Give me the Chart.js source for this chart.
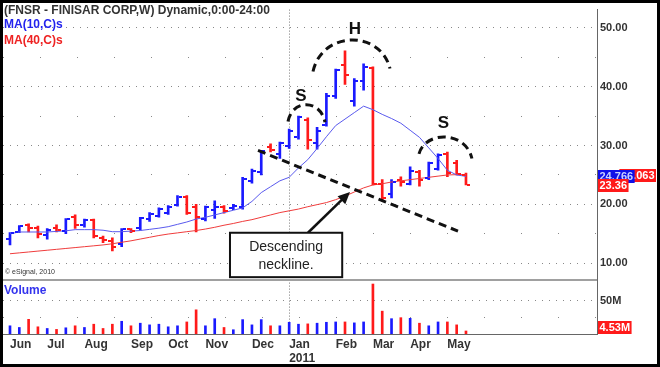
<!DOCTYPE html>
<html lang="en">
<head>
<meta charset="UTF-8">
<script src="https://cdn.jsdelivr.net/npm/chart.js"></script>
<title>FNSR - Finisar Corp, weekly</title>
<style>
    * { margin: 0; padding: 0; }
    body { background: #fff; }
    .contenedor { width: 660px; height: 367px; }
</style>
</head>
<body>
<div class="contenedor"><canvas id="myChart"></canvas></div>
<script>
// weekly bars (Monday of each week)
const semanas = [
    '2010-06-07', '2010-06-14', '2010-06-21', '2010-06-28', '2010-07-05', '2010-07-12', '2010-07-19', '2010-07-26',
    '2010-08-02', '2010-08-09', '2010-08-16', '2010-08-23', '2010-08-30', '2010-09-06', '2010-09-13', '2010-09-20',
    '2010-09-27', '2010-10-04', '2010-10-11', '2010-10-18', '2010-10-25', '2010-11-01', '2010-11-08', '2010-11-15',
    '2010-11-22', '2010-11-29', '2010-12-06', '2010-12-13', '2010-12-20', '2010-12-27', '2011-01-03', '2011-01-10',
    '2011-01-17', '2011-01-24', '2011-01-31', '2011-02-07', '2011-02-14', '2011-02-21', '2011-02-28', '2011-03-07',
    '2011-03-14', '2011-03-21', '2011-03-28', '2011-04-04', '2011-04-11', '2011-04-18', '2011-04-25', '2011-05-02',
    '2011-05-09', '2011-05-16'
];
const apertura = [14.1, 15.3, 16.5, 16.0, 14.8, 16.0, 15.5, 17.8, 16.5, 17.3, 14.3, 13.8, 13.2, 15.8, 16.0, 17.5,
    18.0, 18.5, 19.9, 21.3, 19.6, 17.5, 19.0, 19.5, 19.3, 19.5, 24.0, 25.5, 29.8, 28.5, 30.0, 31.5,
    34.3, 30.5, 33.5, 38.5, 43.7, 37.5, 41.0, 43.2, 23.5, 21.8, 24.2, 23.5, 25.5, 24.5, 26.0, 28.5, 27.0, 25.0];
const maximo = [15.2, 16.4, 16.7, 16.3, 15.9, 16.5, 17.6, 18.2, 17.5, 17.5, 14.6, 14.3, 15.9, 15.9, 17.8, 18.6,
    19.4, 19.8, 21.5, 21.5, 20.0, 19.7, 20.6, 19.8, 20.0, 24.6, 26.0, 29.2, 30.3, 30.6, 32.8, 35.0,
    34.7, 33.1, 38.9, 43.0, 46.1, 41.4, 43.9, 43.4, 24.2, 24.2, 24.7, 26.4, 25.8, 27.2, 28.6, 28.9, 27.5, 25.3];
const minimo = [13.1, 15.2, 15.3, 14.3, 14.1, 15.3, 15.0, 15.9, 16.1, 14.3, 13.5, 12.1, 12.8, 15.2, 15.6, 17.1,
    17.8, 18.3, 19.7, 18.3, 15.3, 17.2, 17.6, 18.5, 19.1, 19.2, 23.6, 25.0, 28.9, 27.8, 29.5, 31.1,
    29.4, 29.4, 33.3, 38.0, 40.4, 36.7, 39.4, 23.3, 20.6, 21.1, 23.1, 23.3, 23.1, 24.2, 25.8, 24.7, 25.0, 23.3];
const cierre = [15.1, 16.3, 15.9, 15.0, 15.7, 15.6, 17.5, 16.5, 17.3, 14.6, 13.9, 12.8, 15.8, 15.4, 17.7, 18.3,
    19.2, 19.5, 21.3, 18.5, 17.9, 19.5, 19.5, 18.8, 19.8, 24.3, 25.6, 29.0, 29.2, 30.4, 32.5, 34.8,
    31.0, 32.5, 38.5, 42.8, 42.0, 41.0, 43.3, 23.4, 21.0, 23.8, 23.8, 25.6, 24.2, 27.0, 28.4, 25.3, 25.1, 23.36];
const ma10 = [15.0, 15.3, 15.3, 15.3, 15.3, 15.4, 15.5, 15.7, 15.7, 15.7, 15.6, 15.35, 15.35, 15.45, 15.55, 15.75,
    15.95, 16.2, 16.6, 17.0, 17.5, 17.8, 18.2, 18.6, 19.0, 19.4, 20.5, 22.0, 23.0, 24.0, 24.6, 26.2,
    27.6, 29.5, 31.5, 33.4, 34.5, 35.6, 36.7, 36.1, 35.3, 34.6, 33.8, 32.6, 31.4, 29.6, 27.8, 25.8, 25.0, 24.766];
const ma40 = [11.6, 11.75, 11.9, 12.05, 12.2, 12.35, 12.5, 12.65, 12.8, 12.95, 13.1, 13.3, 13.55, 13.8, 14.1, 14.4,
    14.7, 14.95, 15.15, 15.35, 15.55, 15.8, 16.1, 16.45, 16.75, 17.1, 17.4, 17.8, 18.2, 18.6, 18.9, 19.2,
    19.6, 19.95, 20.3, 20.8, 21.4, 22.1, 22.8, 23.3, 23.5, 23.8, 24.0, 24.2, 24.4, 24.6, 24.8, 25.0, 25.05, 25.063];
// volume, millions
const volumen = [12.3, 9.8, 22.0, 10.8, 8.3, 6.9, 9.3, 12.3, 9.8, 14.7, 8.3, 14.7, 19.1, 12.3, 16.2, 13.7,
    14.7, 10.8, 12.3, 18.1, 36.3, 12.3, 23.0, 9.8, 6.4, 21.6, 13.7, 21.6, 12.3, 12.3, 17.6, 14.7,
    15.2, 16.2, 17.6, 18.1, 18.1, 16.7, 18.1, 75.0, 34.3, 23.0, 24.5, 23.5, 16.2, 12.3, 18.1, 18.1, 13.7, 4.53];
const marcasPrecio = [10, 15, 20, 25, 30, 35, 40, 45, 50];
const marcasVolumen = [25, 50];
const meses = ['Jan', 'Feb', 'Mar', 'Apr', 'May', 'Jun', 'Jul', 'Aug', 'Sep', 'Oct', 'Nov', 'Dec'];

const FUENTE = "'Liberation Sans', Arial, sans-serif";
const AZUL = '#1a1aff';
const ROJO = '#ff1a1a';
const colores = cierre.map((c, i) => c >= apertura[i] ? AZUL : ROJO);

const mesDe = i => Number(semanas[i].slice(5, 7)) - 1;
const inicioMes = semanas.map((s, i) => i).filter(i => i === 0 || mesDe(i) !== mesDe(i - 1));

function etiquetaMes(i) {
    const m = mesDe(i);
    return m === 0 ? [meses[m], semanas[i].slice(0, 4)] : meses[m];
}

const pts = arr => arr.map((v, i) => ({ x: i, y: v }));

// open / close ticks of the OHLC bars
const marcasOC = {
    id: 'marcasOC',
    afterDatasetsDraw(chart) {
        const { ctx, scales: { x, y } } = chart;
        ctx.save();
        semanas.forEach((s, i) => {
            const px = Math.round(x.getPixelForValue(i));
            ctx.fillStyle = colores[i];
            ctx.fillRect(px - 4, Math.round(y.getPixelForValue(apertura[i])) - 1, 3, 2);
            ctx.fillRect(px + 1, Math.round(y.getPixelForValue(cierre[i])) - 1, 3, 2);
        });
        ctx.restore();
    }
};

function caja(ctx, texto, yc, fondo, tinta, xb, derecha) {
    const w = ctx.measureText(texto).width + 3;
    const x0 = derecha ? xb - w : xb;
    ctx.fillStyle = fondo;
    ctx.fillRect(x0, Math.round(yc) - 6, w, 13);
    ctx.fillStyle = tinta;
    ctx.fillText(texto, x0 + 1.5, Math.round(yc) + 1);
}

// drawing annotations, in (week index, price)
const cuello = [[26.65, 29.17], [48.14, 15.45]];
const arcos = [
    [[29.87, 34.1], [31.7, 36.95], [33.85, 33.95]],
    [[32.56, 42.6], [36.75, 47.95], [40.83, 43.1]],
    [[43.95, 28.6], [46.85, 31.45], [49.64, 27.8]]
];
const letras = [['S', 31.27, 38.45], ['H', 37.07, 49.78], ['S', 46.58, 33.78]];

const anotaciones = {
    id: 'anotaciones',
    beforeDraw(chart) {
        const { ctx, width, height } = chart;
        ctx.save();
        ctx.fillStyle = '#fff';
        ctx.fillRect(0, 0, width, height);
        ctx.restore();
    },
    afterDraw(chart) {
        const { ctx, chartArea: area, scales: { x, y, v }, width, height } = chart;
        const P = ([k, p]) => [x.getPixelForValue(k), y.getPixelForValue(p)];
        ctx.save();

        ctx.strokeStyle = '#a0a0a0';
        ctx.lineWidth = 2;
        ctx.beginPath();
        ctx.moveTo(area.left, v.top);
        ctx.lineTo(area.right, v.top);
        ctx.stroke();

        ctx.textBaseline = 'middle';
        ctx.textAlign = 'left';
        ctx.font = `bold 12px ${FUENTE}`;
        ctx.fillStyle = '#333';
        ctx.fillText('(FNSR - FINISAR CORP,W) Dynamic,0:00-24:00', 4, 11);
        ctx.fillStyle = '#2222ee';
        ctx.fillText('MA(10,C)s', 4, 25);
        ctx.fillStyle = '#ee2222';
        ctx.fillText('MA(40,C)s', 4, 41);
        ctx.fillStyle = '#3333ee';
        ctx.fillText('Volume', 4, v.top + 11);
        ctx.font = `7px ${FUENTE}`;
        ctx.fillStyle = '#333';
        ctx.fillText('\u00a9 eSignal, 2010', 5, v.top - 8);

        // dashed neckline and arcs
        ctx.setLineDash([8, 5]);
        ctx.lineWidth = 3;
        ctx.strokeStyle = '#111';
        ctx.beginPath();
        ctx.moveTo(...P(cuello[0]));
        ctx.lineTo(...P(cuello[1]));
        ctx.stroke();
        arcos.forEach(([a, t, b]) => {
            const [x0, y0] = P(a), [xt, yt] = P(t), [x3, y3] = P(b);
            const cy = (yt - (y0 + y3) / 8) / 0.75;
            const d = (x3 - x0) * 0.12;
            ctx.beginPath();
            ctx.moveTo(x0, y0);
            ctx.bezierCurveTo(x0 + d, cy, x3 - d, cy, x3, y3);
            ctx.stroke();
        });
        ctx.setLineDash([]);

        ctx.font = `bold 17px ${FUENTE}`;
        ctx.fillStyle = '#111';
        ctx.textAlign = 'center';
        letras.forEach(([t, k, p]) => ctx.fillText(t, ...P([k, p])));

        // callout box and arrow
        const [bx0, by0] = P([23.64, 15.17]);
        const [bx1, by1] = P([35.7, 7.62]);
        const [ax0, ay0] = P([32.02, 15.17]);
        const [ax1, ay1] = P([36.54, 22.12]);
        ctx.strokeStyle = '#111';
        ctx.lineWidth = 2.5;
        const ang = Math.atan2(ay1 - ay0, ax1 - ax0);
        ctx.beginPath();
        ctx.moveTo(ax0, ay0);
        ctx.lineTo(ax1 - 9 * Math.cos(ang), ay1 - 9 * Math.sin(ang));
        ctx.stroke();
        ctx.fillStyle = '#111';
        ctx.beginPath();
        ctx.moveTo(ax1, ay1);
        ctx.lineTo(ax1 - 12 * Math.cos(ang) + 5.5 * Math.sin(ang), ay1 - 12 * Math.sin(ang) - 5.5 * Math.cos(ang));
        ctx.lineTo(ax1 - 12 * Math.cos(ang) - 5.5 * Math.sin(ang), ay1 - 12 * Math.sin(ang) + 5.5 * Math.cos(ang));
        ctx.closePath();
        ctx.fill();
        ctx.fillStyle = '#fff';
        ctx.fillRect(bx0, by0, bx1 - bx0, by1 - by0);
        ctx.lineWidth = 2;
        ctx.strokeRect(bx0, by0, bx1 - bx0, by1 - by0);
        ctx.fillStyle = '#222';
        ctx.font = `14px ${FUENTE}`;
        const cx = (bx0 + bx1) / 2, cyb = (by0 + by1) / 2;
        ctx.fillText('Descending', cx, cyb - 8);
        ctx.fillText('neckline.', cx, cyb + 10);

        // last value boxes on the right axis
        ctx.textAlign = 'left';
        ctx.font = `bold 11px ${FUENTE}`;
        const n = semanas.length - 1;
        caja(ctx, ma40[n].toFixed(3), y.getPixelForValue(ma40[n]), ROJO, '#fff', width - 4, true);
        caja(ctx, ma10[n].toFixed(3), y.getPixelForValue(ma10[n]), '#1010e8', '#c8d0ff', area.right + 1, false);
        caja(ctx, cierre[n].toFixed(2), y.getPixelForValue(cierre[n]), ROJO, '#fff', area.right + 1, false);
        caja(ctx, volumen[n].toFixed(2) + 'M', Math.min(v.getPixelForValue(volumen[n]), area.bottom - 7), ROJO, '#fff', area.right + 1, false);

        ctx.strokeStyle = '#000';
        ctx.lineWidth = 3;
        ctx.strokeRect(1.5, 1.5, width - 3, height - 3);
        ctx.restore();
    }
};

const ejeDerecho = {
    type: 'linear',
    position: 'right',
    stack: 'paneles',
    bounds: 'data',
    afterFit: s => { s.width = 60; },
    grid: { color: '#888', lineWidth: 1, drawTicks: false },
    border: {
        display: true, color: '#666', width: 1,
        dash: c => c.tick ? (c.tick.value % 10 === 0 ? [1, 6] : [1, 36]) : []
    }
};

const ctx = document.getElementById('myChart').getContext('2d');
const myChart = new Chart(ctx, {
    data: {
        datasets: [
            { type: 'line', label: 'MA(10,C)s', data: pts(ma10), yAxisID: 'y', borderColor: '#5a5aee', borderWidth: 1, pointRadius: 0, order: 0 },
            { type: 'line', label: 'MA(40,C)s', data: pts(ma40), yAxisID: 'y', borderColor: '#f03c3c', borderWidth: 1, pointRadius: 0, order: 0 },
            {
                type: 'bar', label: 'FNSR', yAxisID: 'y', order: 1,
                data: minimo.map((l, i) => ({ x: i, y: [l, maximo[i]] })),
                backgroundColor: colores, barThickness: 2, grouped: false, borderWidth: 0
            },
            {
                type: 'bar', label: 'Volume', yAxisID: 'v', order: 1,
                data: pts(volumen),
                backgroundColor: colores, barThickness: 2, grouped: false, borderWidth: 0
            }
        ]
    },
    options: {
        responsive: true,
        maintainAspectRatio: false,
        animation: false,
        layout: { padding: { left: 3, top: 3, right: 3, bottom: 3 } },
        plugins: { legend: { display: false }, tooltip: { enabled: false } },
        scales: {
            x: {
                type: 'linear',
                min: -0.752,
                max: 63.08,
                offset: false,
                bounds: 'data',
                afterBuildTicks: s => { s.ticks = inicioMes.map(i => ({ value: i })); },
                afterFit: s => { s.height = 30; },
                ticks: {
                    autoSkip: false, maxRotation: 0, align: 'start', padding: 3,
                    color: '#333', font: { family: FUENTE, size: 12, weight: 'bold' },
                    callback: value => etiquetaMes(value)
                },
                grid: {
                    drawTicks: false, lineWidth: 1, offset: false,
                    color: c => (c.tick && mesDe(c.tick.value) === 0) ? '#777' : 'rgba(0,0,0,0)'
                },
                border: { display: true, color: '#666', width: 1, dash: c => c.tick ? [1, 2] : [] }
            },
            y: {
                ...ejeDerecho,
                min: 7.12,
                max: 53.12,
                stackWeight: 276,
                afterBuildTicks: s => { s.ticks = marcasPrecio.map(p => ({ value: p })); },
                ticks: {
                    padding: 3, color: '#333', font: { family: FUENTE, size: 11, weight: 'bold' },
                    callback: value => value % 10 === 0 ? value.toFixed(2) : ''
                }
            },
            v: {
                ...ejeDerecho,
                min: 0,
                max: 80.9,
                stackWeight: 55,
                afterBuildTicks: s => { s.ticks = marcasVolumen.map(p => ({ value: p })); },
                border: {
                    display: true, color: '#666', width: 1,
                    dash: c => c.tick ? (c.tick.value === 50 ? [1, 6] : [1, 36]) : []
                },
                ticks: {
                    padding: 3, color: '#333', font: { family: FUENTE, size: 11, weight: 'bold' },
                    callback: value => value === 50 ? '50M' : ''
                }
            }
        }
    },
    plugins: [marcasOC, anotaciones]
});
</script>
</body>
</html>
